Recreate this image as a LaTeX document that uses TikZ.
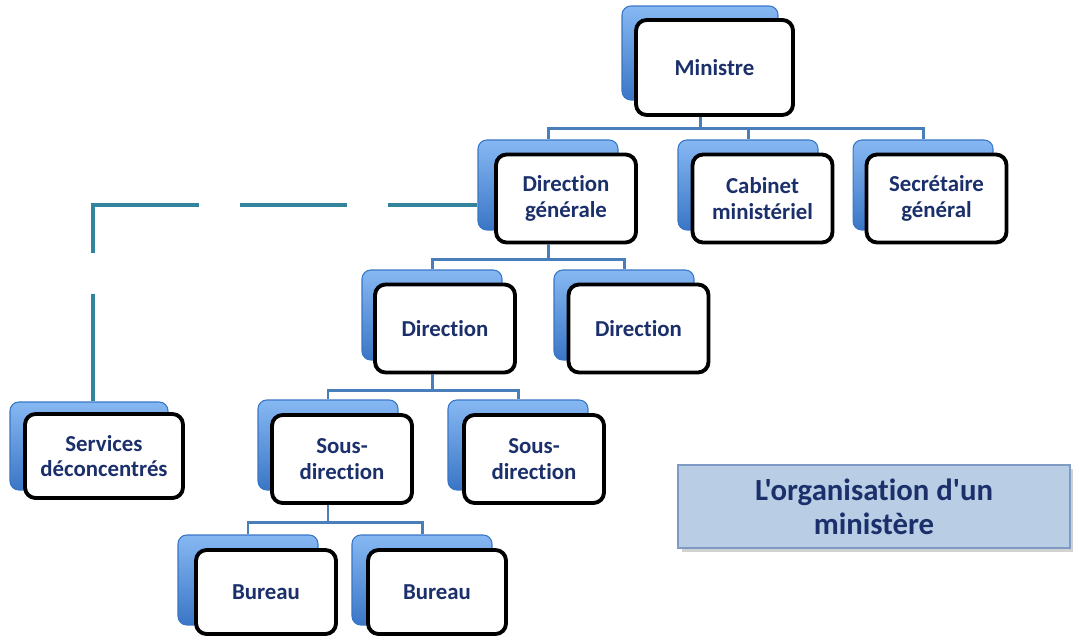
\documentclass[tikz,border=0pt]{standalone}
\usepackage{fontspec}
\newfontfamily\orgfont{Carlito}[Ligatures=NoCommon]
\usetikzlibrary{shadows}
\definecolor{navy}{HTML}{1B2F6B}
\definecolor{linkblue}{HTML}{4A7EBB}
\definecolor{dashteal}{HTML}{31849B}
\definecolor{backtop}{HTML}{86B8F2}
\definecolor{backbot}{HTML}{3A76C6}
\definecolor{titlefill}{HTML}{B9CDE5}
\definecolor{titledraw}{HTML}{7F9BC3}
\begin{document}
\begin{tikzpicture}[x=0.02cm, y=-0.02cm,
    back node/.style={rectangle, rounded corners=5pt, draw=backbot, line width=0.6pt, top color=backtop, bottom color=backbot, minimum width=2.8cm, minimum height=1.8cm, inner sep=0pt},
    main node/.style={rectangle, rounded corners=6pt, draw=black, line width=2.2pt, fill=white, minimum width=2.8cm, minimum height=1.76cm, inner sep=0pt, align=center, text=navy, font=\orgfont\bfseries\fontsize{13}{14.5}\selectfont},
    title node/.style={rectangle, draw=titledraw, line width=1pt, fill=titlefill, minimum width=7.84cm, minimum height=1.66cm, align=center, text=navy, font=\orgfont\bfseries\fontsize{17.5}{19.5}\selectfont, drop shadow={shadow xshift=2pt, shadow yshift=-2pt, opacity=.35}},
    link/.style={draw=linkblue, line width=1.7pt},
    dash link/.style={draw=dashteal, line width=2.8pt, dash pattern=on 2.16cm off 0.82cm}]

    \useasboundingbox[fill=white] (0, 0) rectangle (1074, 638);

    % back boxes
    \node[back node, minimum width=3.12cm, minimum height=1.88cm] at (700, 53) (minb) {};
    \node[back node] at (548, 185) (dgb) {};
    \node[back node] at (748, 185) (cabb) {};
    \node[back node] at (923, 185) (secb) {};
    \node[back node] at (432, 315) (dirab) {};
    \node[back node] at (624, 315) (dirbb) {};
    \node[back node, minimum width=3.16cm, minimum height=1.76cm] at (89, 446) (servb) {};
    \node[back node] at (328, 445) (sdab) {};
    \node[back node] at (518, 445) (sdbb) {};
    \node[back node] at (248, 580) (burab) {};
    \node[back node] at (422, 580) (burbb) {};

    % front boxes
    \node[main node, minimum width=3.14cm, minimum height=1.9cm] at (714.5, 67.5) (min) {Ministre};
    \node[main node] at (566, 198.5) (dg) {Direction\\générale};
    \node[main node] at (762.5, 198.5) (cab) {Cabinet\\ministériel};
    \node[main node] at (936.5, 198.5) (sec) {Secrétaire\\général};
    \node[main node] at (445, 328.5) (dira) {Direction};
    \node[main node] at (638.5, 328.5) (dirb) {Direction};
    \node[main node, minimum width=3.16cm, minimum height=1.68cm] at (104, 456) (serv) {Services\\déconcentrés};
    \node[main node] at (342, 459) (sda) {Sous-\\direction};
    \node[main node] at (534, 459) (sdb) {Sous-\\direction};
    \node[main node, minimum height=1.68cm] at (266, 592) (bura) {Bureau};
    \node[main node, minimum width=2.76cm, minimum height=1.68cm] at (437, 592) (burb) {Bureau};

    \node[title node] at (874, 506.5) (titre) {L'organisation d'un\\ministère};

    % links
    \path[link] (minb.center |- min.south) -- ++(0, 12) -| (dgb.north);
    \path[link] (minb.center |- min.south) -- ++(0, 12) -| (cabb.north);
    \path[link] (minb.center |- min.south) -- ++(0, 12) -| (secb.north);
    \path[link] (dgb.center |- dg.south) -- ++(0, 15) -| (dirab.north);
    \path[link] (dgb.center |- dg.south) -- ++(0, 15) -| (dirbb.north);
    \path[link] (dirab.center |- dira.south) -- ++(0, 16) -| (sdab.north);
    \path[link] (dirab.center |- dira.south) -- ++(0, 16) -| (sdbb.north);
    \path[link] (sdab.center |- sda.south) -- ++(0, 18) -| (burab.north);
    \path[link] (sdab.center |- sda.south) -- ++(0, 18) -| (burbb.north);

    \coordinate (coin) at (93, 205);
    \path[dash link] (servb.north -| coin) -- (coin);
    \path[dash link] ([xshift=-1.4pt]coin) -- (coin -| dgb.west);
\end{tikzpicture}
\end{document}
